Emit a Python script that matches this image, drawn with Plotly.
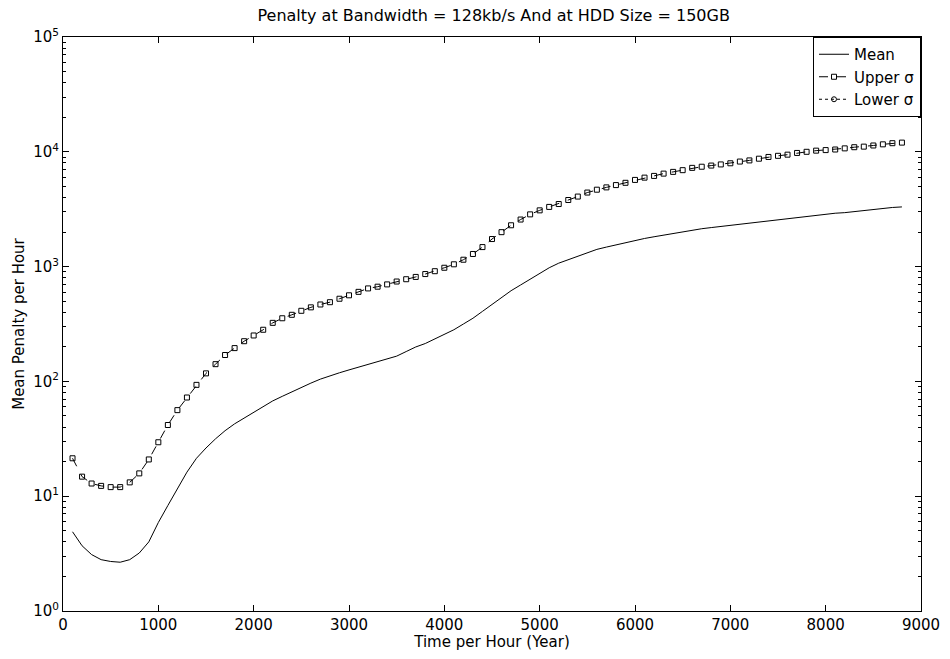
import plotly.graph_objects as go

# time axis (hours), one sample every 100
time_hours = [100 * i for i in range(1, 89)]

mean_penalty = [
    4.9, 3.7, 3.1, 2.8, 2.7, 2.66, 2.8, 3.2, 4.0, 5.9,
    8.3, 11.5, 16.2, 21.4, 26.3, 31.6, 37.2, 42.7, 47.9, 53.7,
    60.3, 67.6, 74.1, 81.3, 88.1, 96.6, 104.7, 112.2, 118.9, 125.9,
    133.4, 141.3, 147.9, 156.7, 166.0, 182.0, 199.5, 213.8, 234.4, 257.0,
    281.8, 316.2, 354.8, 407.4, 467.7, 537.0, 616.6, 691.8, 776.2, 871.0,
    977.2, 1071.5, 1148.2, 1230.3, 1318.3, 1412.5, 1479.1, 1548.8, 1621.8, 1698.2,
    1757.9, 1819.7, 1883.6, 1949.8, 1995.3, 2065.4, 2138.0, 2187.8, 2238.7, 2290.9,
    2344.2, 2398.8, 2454.7, 2511.9, 2570.4, 2630.3, 2691.5, 2754.2, 2818.4, 2851.0,
    2917.0, 2951.0, 3020.0, 3090.0, 3162.0, 3199.0, 3273.0, 3311.0,
]

upper_sigma = [
    21.4, 14.8, 12.9, 12.3, 12.0, 12.0, 13.2, 15.8, 20.9, 29.5,
    41.7, 56.2, 72.4, 93.3, 117.5, 141.3, 169.8, 195.0, 223.9, 251.2,
    281.8, 323.6, 354.8, 380.2, 412.1, 441.6, 467.7, 489.8, 524.8, 562.3,
    602.6, 645.7, 668.3, 699.8, 741.3, 776.2, 812.8, 861.0, 912.0, 977.2,
    1047, 1148, 1288, 1479, 1738, 1995, 2291, 2570, 2851, 3090,
    3311, 3508, 3802, 4074, 4416, 4677, 4898, 5129, 5370, 5689,
    5957, 6166, 6457, 6683, 6918, 7244, 7413, 7586, 7762, 7943,
    8222, 8414, 8710, 9016, 9226, 9441, 9772, 10000, 10233, 10351,
    10471, 10715, 10965, 11092, 11350, 11614, 11885, 12023,
]

# lower sigma goes below zero -> nothing shows on the log axis, legend only
lower_sigma = [None]

ytick_vals = [1, 10, 100, 1000, 10000, 100000]
ytick_text = ["10<sup>0</sup>", "10<sup>1</sup>", "10<sup>2</sup>",
              "10<sup>3</sup>", "10<sup>4</sup>", "10<sup>5</sup>"]
yminor_vals = [k * 10 ** d for d in range(5) for k in range(2, 10)]

fig = go.Figure()
fig.add_trace(go.Scatter(x=time_hours, y=mean_penalty, mode="lines", name="Mean",
                         line=dict(color="black", width=1)))
fig.add_trace(go.Scatter(x=time_hours, y=upper_sigma, mode="lines+markers", name="Upper σ",
                         line=dict(color="black", width=1, dash="dash"),
                         marker=dict(symbol="square-open", size=5, color="black",
                                     line=dict(width=1))))
fig.add_trace(go.Scatter(x=lower_sigma, y=lower_sigma, mode="lines+markers", name="Lower σ",
                         line=dict(color="black", width=1, dash="dot"),
                         marker=dict(symbol="circle-open", size=5, color="black",
                                     line=dict(width=1))))

font = "DejaVu Sans, sans-serif"
# page has an 8px body margin, so the figure is a bit smaller than the window
fig.update_layout(
    width=934, height=643,
    paper_bgcolor="white", plot_bgcolor="white",
    margin=dict(l=55, r=21, t=29, b=40),
    font=dict(family=font, size=15, color="black"),
    title=dict(text="Penalty at Bandwidth = 128kb/s And at HDD Size = 150GB",
               xref="container", x=0.52, xanchor="center",
               yref="container", y=1.0, yanchor="top", pad=dict(t=2),
               font=dict(size=16)),
    showlegend=True,
    legend=dict(x=1, y=1, xanchor="right", yanchor="top", bgcolor="white",
                bordercolor="black", borderwidth=1, font=dict(size=15),
                tracegroupgap=0, itemwidth=30),
)
fig.update_xaxes(
    range=[0, 9000], tickvals=list(range(0, 9001, 1000)),
    ticks="inside", ticklen=6, tickcolor="black", automargin=False,
    showline=True, linecolor="black", linewidth=1, mirror="ticks",
    showgrid=False, zeroline=False, tickfont=dict(size=15),
    title=dict(text="Time per Hour (Year)", standoff=2, font=dict(size=15)),
)
fig.update_yaxes(
    type="log", range=[0, 5], tickvals=ytick_vals, ticktext=ytick_text,
    ticks="inside", ticklen=6, tickcolor="black", automargin=False,
    minor=dict(tickvals=yminor_vals, ticks="inside", ticklen=3, tickcolor="black"),
    showline=True, linecolor="black", linewidth=1, mirror="ticks",
    showgrid=False, zeroline=False, tickfont=dict(size=15),
    title=dict(text="Mean Penalty per Hour", standoff=4, font=dict(size=15)),
)

fig.write_html("out.html")
